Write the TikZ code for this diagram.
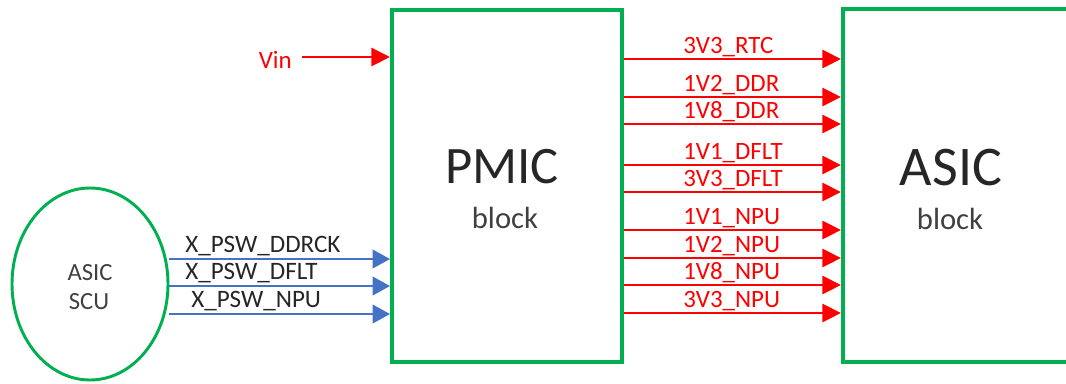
\documentclass[tikz,border=0pt]{standalone}
\usepackage{fontspec}
\setmainfont{Carlito}
\usetikzlibrary{arrows.meta,shapes.geometric}
\definecolor{boxgreen}{HTML}{00B050}
\definecolor{sigred}{HTML}{FF0000}
\definecolor{sigblue}{HTML}{4472C4}
\definecolor{txtgray}{HTML}{262626}
\definecolor{txtsoft}{HTML}{404040}
\begin{document}
\begin{tikzpicture}[x=0.75pt,y=-0.75pt,
  blockbox/.style={draw=boxgreen,line width=3pt,inner sep=0pt},
  rail/.style={draw=sigred,line width=2.2pt,-{Triangle[length=14pt,width=13.5pt]}},
  ctl/.style={draw=sigblue,line width=1.3pt,-{Triangle[length=13pt,width=14pt]}},
  raillabel/.style={text=sigred,font=\fontsize{18.7}{20}\selectfont,anchor=base west,inner sep=0pt},
  ctllabel/.style={text=txtgray,font=\fontsize{18.8}{20}\selectfont,anchor=base west,inner sep=0pt},
  bigtext/.style={font=\fontsize{42}{44}\selectfont,text=txtgray,inner sep=0pt,anchor=base},
  smalltext/.style={font=\fontsize{23}{25}\selectfont,text=txtsoft,inner sep=0pt,anchor=base},
  scutext/.style={font=\fontsize{18.5}{20}\selectfont,text=txtsoft,inner sep=0pt,anchor=base}]
\useasboundingbox (0,0) rectangle (1066,383);
\node[blockbox,minimum width=172.5pt,minimum height=264pt] (pmic) at (507,186) {};
\node[blockbox,minimum width=225pt,minimum height=264.75pt] (asic) at (993,185.5) {};
\node[blockbox,ellipse,line width=2.2pt,minimum width=117pt,minimum height=144pt] (scu) at (90,284) {};
\node[bigtext,font=\fontsize{39.5}{44}\selectfont] (pmict) at (502,183) {PMIC};
\node[smalltext] (pmicb) at (505,228) {block};
\node[bigtext] (asict) at (951,185) {ASIC};
\node[smalltext] (asicb) at (950,229) {block};
\node[scutext] (scu1) at (90,280) {ASIC};
\node[scutext] (scu2) at (89,309) {SCU};
\node[raillabel,anchor=base east] (vin) at (292,68) {Vin};
\coordinate (vinstart) at (302,57);
\draw[rail] (vinstart) -- (pmic.west |- vinstart);
\foreach \y/\t [count=\i] in {59/3V3\_RTC,97/1V2\_DDR,124/1V8\_DDR,165/1V1\_DFLT,192/3V3\_DFLT,230/1V1\_NPU,258/1V2\_NPU,285/1V8\_NPU,313/3V3\_NPU}{
  \node[raillabel] (rl\i) at (683,\y-6) {\t};
  \coordinate (ry\i) at (700,\y);
  \draw[rail] (pmic.east |- ry\i) -- (asic.west |- ry\i);
}
\foreach \y/\x/\t [count=\i] in {259/185/X\_PSW\_DDRCK,286/185/X\_PSW\_DFLT,314/191/X\_PSW\_NPU}{
  \node[ctllabel] (cl\i) at (\x,\y-6.5) {\t};
  \coordinate (cy\i) at (300,\y);
  \draw[ctl] (scu.east |- cy\i) -- (pmic.west |- cy\i);
}
\end{tikzpicture}
\end{document}
